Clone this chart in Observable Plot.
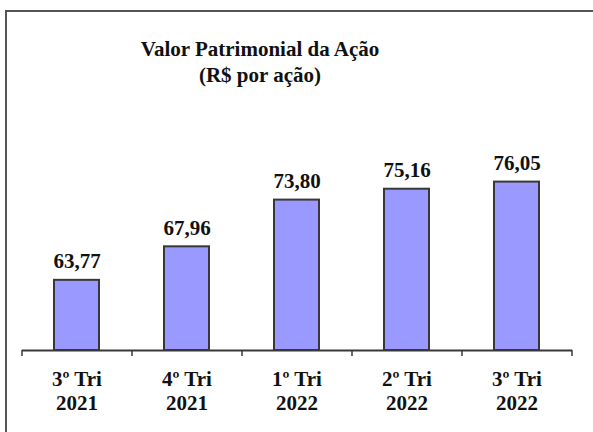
<!DOCTYPE html>
<html>
<head>
<meta charset="utf-8">
<script src="https://cdn.jsdelivr.net/npm/d3@7"></script>
<script src="https://cdn.jsdelivr.net/npm/@observablehq/plot@0.6"></script>
<style>
  html, body { margin: 0; padding: 0; background: #fff; }
  #wrap { position: relative; width: 593px; height: 432px; overflow: hidden; }
  #frame { position: absolute; left: 5px; top: 10px; width: 600px; height: 440px;
           border-top: 2px solid #555; border-left: 2px solid #555; }
  #title { position: absolute; left: 60px; width: 400px; top: 36px; text-align: center;
           font-family: "Liberation Serif", "DejaVu Serif", "Times New Roman", serif; font-weight: bold;
           font-size: 21px; line-height: 26px; color: #111; }
  #chart { position: absolute; left: 0; top: 0; }
</style>
</head>
<body>
<div id="wrap">
  <div id="frame"></div>
  <div id="chart"></div>
  <div id="title">Valor Patrimonial da Ação<br>(R$ por ação)</div>
</div>
<script>
const categories = ["3º Tri 2021", "4º Tri 2021", "1º Tri 2022", "2º Tri 2022", "3º Tri 2022"];
const tickLabels = ["3º Tri\n2021", "4º Tri\n2021", "1º Tri\n2022", "2º Tri\n2022", "3º Tri\n2022"];
const values = [63.77, 67.96, 73.80, 75.16, 76.05];

const data = categories.map((c, i) => ({cat: c, label: tickLabels[i], value: values[i]}));
const fmt = v => v.toFixed(2).replace(".", ",");

const W = 593, H = 432, mL = 22, mR = 21, mT = 150, mB = 82;
const half = (W - mL - mR) / categories.length / 2;
const font = "'Liberation Serif', 'DejaVu Serif', 'Times New Roman', serif";

const chart = Plot.plot({
  width: W,
  height: H,
  marginLeft: mL,
  marginRight: mR,
  marginTop: mT,
  marginBottom: mB,
  style: {background: "transparent", fontFamily: font, overflow: "visible"},
  x: {type: "band", domain: categories, paddingInner: 0.59, paddingOuter: 0.295, axis: null},
  y: {domain: [55, 80], axis: null},
  marks: [
    Plot.barY(data, {x: "cat", y1: 55, y2: "value", fill: "#9999ff", stroke: "#383838", strokeWidth: 2}),
    Plot.ruleY([55], {stroke: "#383838", strokeWidth: 2}),
    Plot.ruleX(categories, {x: d => d, dx: half, y1: 55, y2: 55, insetBottom: -6, stroke: "#383838", strokeWidth: 1.5}),
    Plot.ruleX(categories.slice(0, 1), {x: d => d, dx: -half, y1: 55, y2: 55, insetBottom: -6, stroke: "#383838", strokeWidth: 1.5}),
    Plot.text(data, {x: "cat", y: "value", text: d => fmt(d.value), dy: -12, lineAnchor: "bottom",
      fontSize: 21, fontWeight: "bold", fontFamily: font, fill: "#111"}),
    Plot.text(data, {x: "cat", text: "label", frameAnchor: "bottom", lineAnchor: "top", dy: 18,
      lineHeight: 1.15, fontSize: 21, fontWeight: "bold", fontFamily: font, fill: "#111"})
  ]
});
document.getElementById("chart").appendChild(chart);
</script>
</body>
</html>
